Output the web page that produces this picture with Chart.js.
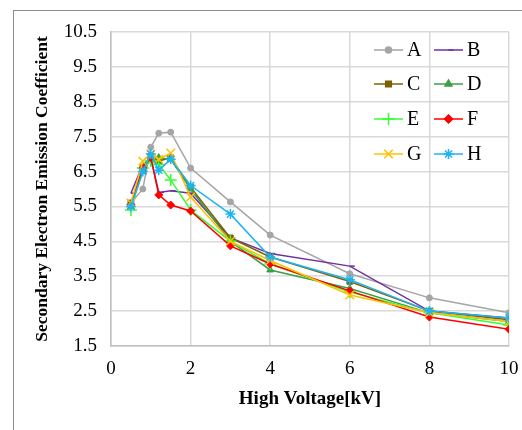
<!DOCTYPE html>
<html>
<head>
<meta charset="utf-8">
<script src="https://cdn.jsdelivr.net/npm/chart.js@4/dist/chart.umd.min.js"></script>
<style>
  html, body { margin: 0; padding: 0; background: #fff; }
  #wrap { position: relative; width: 522px; height: 430px; }
  #frame { position: absolute; left: 13px; top: 10px; width: 520px; height: 440px; border: 1px solid #8c8c8c; box-sizing: border-box; }
  canvas { position: absolute; left: 0; top: 0; }
</style>
</head>
<body>
<div id="wrap">
  <div id="frame"></div>
  <canvas id="chart" width="522" height="430"></canvas>
</div>
<script>
const voltage = [0.5, 0.8, 1.0, 1.2, 1.5, 2, 3, 4, 6, 8, 10];
const seriesNames = ['A', 'B', 'C', 'D', 'E', 'F', 'G', 'H'];
const valuesA = [5.6, 6.0, 7.2, 7.6, 7.63, 6.6, 5.63, 4.68, 3.57, 2.88, 2.45];
const valuesB = [5.88, 6.7, 6.9, 5.9, 5.95, 5.88, 4.6, 4.15, 3.79, 2.5, 2.3];
const valuesC = [5.6, 6.6, 6.95, 6.8, 6.9, 6.05, 4.6, 4.05, 3.35, 2.5, 2.25];
const valuesD = [5.5, 6.5, 6.9, 6.9, 6.85, 6.0, 4.5, 3.68, 3.15, 2.45, 2.2];
const valuesE = [5.4, 6.6, 6.8, 6.7, 6.26, 5.4, 4.5, 3.85, 3.05, 2.45, 2.1];
const valuesF = [5.55, 6.6, 6.9, 5.83, 5.54, 5.37, 4.37, 3.85, 3.08, 2.33, 1.98];
const valuesG = [5.6, 6.8, 7.0, 6.85, 7.03, 5.77, 4.5, 3.95, 2.96, 2.45, 2.2];
const valuesH = [5.5, 6.5, 7.0, 6.54, 6.85, 6.1, 5.28, 4.05, 3.4, 2.5, 2.3];
const yTicks = [1.5, 2.5, 3.5, 4.5, 5.5, 6.5, 7.5, 8.5, 9.5, 10.5];

const allValues = [valuesA, valuesB, valuesC, valuesD, valuesE, valuesF, valuesG, valuesH];
const colors = ['#A5A5A5', '#7030A0', '#7F6000', '#3E9E47', '#33FF33', '#FF0000', '#FFC000', '#1EB4F0'];
const styles = ['circle', 'dash', 'rect', 'triangle', 'cross', 'rectRot', 'crossRot', 'star'];
const radii = [3, 5, 4, 4, 6, 4, 6, 5];

const serif = "'Liberation Serif', 'DejaVu Serif', serif";
const openStyles = ['cross', 'crossRot', 'star', 'dash'];

const datasets = seriesNames.map((name, i) => ({
  label: name,
  data: voltage.map((v, j) => ({ x: v, y: allValues[i][j] })),
  borderColor: colors[i],
  backgroundColor: colors[i],
  borderWidth: 1.5,
  pointStyle: styles[i],
  pointRadius: radii[i],
  pointBorderWidth: openStyles.includes(styles[i]) ? 1.5 : 1,
  order: 7 - i,
  tension: 0
}));

// legend drawn inside the plot, two columns like the original
const insideLegend = {
  id: 'insideLegend',
  afterDatasetsDraw(chart) {
    const ctx = chart.ctx;
    const colX = [374, 434];
    const rowY = [50, 84, 119, 154];
    ctx.save();
    seriesNames.forEach((name, i) => {
      const x = colX[i % 2];
      const y = rowY[Math.floor(i / 2)];
      ctx.strokeStyle = colors[i];
      ctx.lineWidth = 1.5;
      ctx.beginPath();
      ctx.moveTo(x, y);
      ctx.lineTo(x + 29, y);
      ctx.stroke();
      ctx.fillStyle = colors[i];
      Chart.helpers.drawPoint(ctx, {
        pointStyle: styles[i],
        radius: radii[i],
        borderWidth: datasets[i].pointBorderWidth,
        rotation: 0
      }, x + 14.5, y);
      if (!openStyles.includes(styles[i])) ctx.fill();
      ctx.fillStyle = '#000';
      ctx.font = '20px ' + serif;
      ctx.textBaseline = 'middle';
      ctx.textAlign = 'left';
      ctx.fillText(name, x + 33, y + 1);
    });
    ctx.restore();
  }
};

new Chart(document.getElementById('chart'), {
  type: 'line',
  data: { datasets },
  options: {
    responsive: false,
    animation: false,
    layout: { padding: { left: 0, top: 32, right: 13, bottom: 0 } },
    plugins: {
      legend: { display: false },
      tooltip: { enabled: false }
    },
    scales: {
      x: {
        type: 'linear',
        min: 0,
        max: 10,
        afterFit: s => { s.height = 84; s.paddingLeft = 0; s.paddingRight = 0; },
        ticks: { stepSize: 2, color: '#000', font: { family: serif, size: 19 }, padding: 12 },
        grid: { color: '#D9D9D9', lineWidth: 1.5, drawTicks: false },
        border: { color: '#BFBFBF', width: 1.5 },
        title: { display: true, text: 'High Voltage[kV]', color: '#000', font: { family: serif, size: 19, weight: 'bold' }, padding: { top: 4, bottom: 20 } }
      },
      y: {
        min: 1.5,
        max: 10.5,
        afterFit: s => { s.width = 111; s.paddingTop = 0; s.paddingBottom = 0; },
        afterBuildTicks: s => { s.ticks = yTicks.map(v => ({ value: v })); },
        ticks: { color: '#000', font: { family: serif, size: 19 }, padding: 14, callback: v => v.toFixed(1) },
        grid: { color: '#D9D9D9', lineWidth: 1.5, drawTicks: false },
        border: { color: '#BFBFBF', width: 1.5 },
        title: { display: true, text: 'Secondary Electron Emission Coefficient', color: '#000', font: { family: serif, size: 17.5, weight: 'bold' }, padding: { top: 32 } }
      }
    }
  },
  plugins: [insideLegend]
});
</script>
</body>
</html>
